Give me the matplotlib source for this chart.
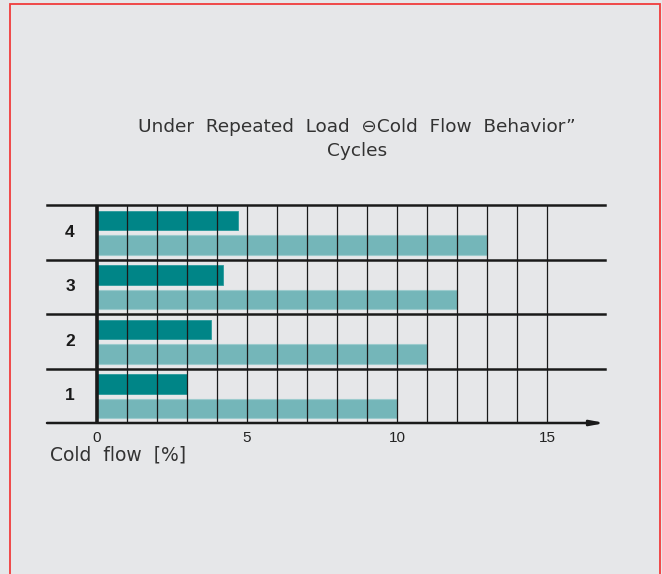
import matplotlib.pyplot as plt
from matplotlib.patches import Rectangle

cycles = [1, 2, 3, 4]
first_load = [3.0, 3.8, 4.2, 4.7]
after_cycles = [10, 11, 12, 13]
xticks = [0, 5, 10, 15]

W, H = 662, 574
bg = '#e6e7e9'
dark = '#008587'
light = '#74b6b9'

fig = plt.figure(figsize=(W / 100, H / 100), dpi=100)
fig.patch.set_facecolor(bg)

def px(x, y):
    return x / W, 1 - y / H

# axes: x=0 at px 97, 30 px per unit; bands from y=205 (top) to 423 (bottom)
l, r, t, b = 47, 605, 205, 423
ax = fig.add_axes([l / W, 1 - b / H, (r - l) / W, (b - t) / H])
ax.set_facecolor(bg)
xmin, xmax = (l - 97) / 30, (r - 97) / 30
ax.set_xlim(xmin, xmax)
ax.set_ylim(0, 4)
ax.axis('off')

ax.barh([c - 0.285 for c in cycles], first_load, height=0.35, left=0,
        color=dark, edgecolor='#2a9a9c', linewidth=0.6, zorder=2)
ax.barh([c - 0.735 for c in cycles], after_cycles, height=0.36, left=0,
        color=light, edgecolor='#9ccbcd', linewidth=0.8, zorder=2)

# vertical grid
for v in range(1, 16):
    ax.plot([v, v], [0, 4], color='#1a1a1a', lw=0.9, zorder=3, solid_capstyle='butt')
ax.plot([0, 0], [0, 4], color='#1a1a1a', lw=2.6, zorder=4, solid_capstyle='butt')

# horizontal band lines
for h in range(1, 5):
    ax.plot([xmin, xmax], [h, h], color='#1a1a1a', lw=1.8, zorder=4, clip_on=False)
ax.annotate('', xy=(xmax, 0), xytext=(xmin, 0),
            arrowprops=dict(arrowstyle='-|>,head_length=0.8,head_width=0.15',
                            color='#1a1a1a', lw=1.8, shrinkA=0, shrinkB=0),
            zorder=4, annotation_clip=False)

for c in cycles:
    ax.text(-0.9, c - 0.5, str(c), ha='center', va='center', fontsize=12.5,
            fontweight='bold', family='Liberation Sans', color='#1a1a1a')

for xt in xticks:
    ax.text(xt, -0.27, str(xt), ha='center', va='center', fontsize=11,
            family='Liberation Sans', color='#222222')

fig.text(*px(50, 455), 'Cold  flow  [%]', ha='left', va='center', fontsize=13.5,
         color='#333333')

fig.text(*px(357, 127), 'Under  Repeated  Load  \u2296Cold  Flow  Behavior\u201d',
         ha='center', va='center', fontsize=13.3, color='#333333')
fig.text(*px(357, 151), 'Cycles', ha='center', va='center', fontsize=13.3,
         color='#333333')

fig.patches.append(Rectangle(px(10, 600), (650) / W, (596) / H,
                             transform=fig.transFigure, fill=False,
                             edgecolor='#f03c3c', lw=1.3))

fig.savefig('out.png', dpi=100, facecolor=bg)
